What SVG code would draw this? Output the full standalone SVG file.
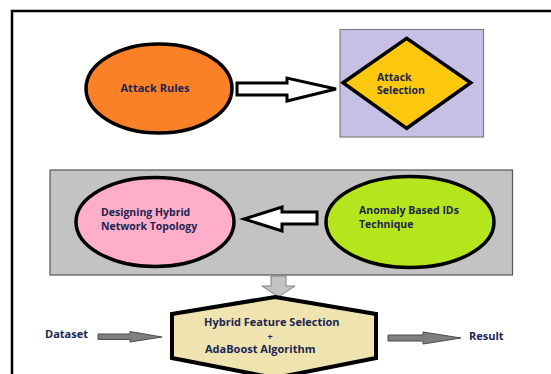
<svg xmlns="http://www.w3.org/2000/svg" width="551" height="374" viewBox="0 0 551 374">
<style>
.t{font-family:"Open Sans","Liberation Sans",sans-serif;font-weight:bold;fill:#1c2452;}
.e{stroke:#000;stroke-width:3.5;}
.hollow{fill:#fff;stroke:#000;stroke-width:3;stroke-linejoin:miter;}
.grey{fill:#7f7f7f;stroke:#4d4d4d;stroke-width:1;}
</style>
<rect width="551" height="374" fill="#fff"/>
<path d="M12,380 L12,11 L556,11" fill="none" stroke="#000" stroke-width="2.5"/>
<g id="ids-group">
<rect x="50" y="170" width="462.5" height="105" fill="#c3c3c3" stroke="#555" stroke-width="1.2"/>
</g>
<g id="connectors">
<polygon class="hollow" points="237,83 287,83 287,78 336,89 287,101 287,95 237,95"/>
<polygon class="hollow" points="244,219 282,207 282,212 317,212 317,224 282,224 282,231"/>
<polygon points="271,276 286,276 286,286 295,286 278.5,297 262,286 271,286" fill="#c3c3c3" stroke="#7f7f7f" stroke-width="1"/>
<polygon class="grey" points="98,334 130,334 130,331.5 162,337 130,342 130,339.5 98,339.5"/>
<polygon class="grey" points="388,335 423,335 423,332 461,338 423,344 423,341 388,341"/>
</g>
<g id="attack-rules">
<ellipse class="e" cx="159" cy="88.5" rx="73" ry="44.5" fill="#fa8128"/>
<text class="t" x="155" y="92" font-size="11" text-anchor="middle">Attack Rules</text>
</g>
<g id="attack-selection">
<rect x="340" y="29.5" width="143.5" height="107.5" fill="#c6c0e6" stroke="#7f7f7f" stroke-width="1.2"/>
<polygon class="e" points="343,82.7 406.7,38.3 470.7,82.7 406.7,128.3" fill="#fdc80e"/>
<text class="t" x="377" y="80.5" font-size="10.5">Attack</text>
<text class="t" x="377" y="94" font-size="10.5">Selection</text>
</g>
<g id="designing-hybrid">
<ellipse class="e" cx="155" cy="222" rx="79" ry="44.5" fill="#ffaec9"/>
<text class="t" x="101" y="216" font-size="10.5">Designing Hybrid</text>
<text class="t" x="101" y="229.5" font-size="10.5">Network Topology</text>
</g>
<g id="anomaly-ids">
<ellipse class="e" cx="410" cy="222" rx="84" ry="45.5" fill="#b5e61d"/>
<text class="t" x="359" y="214" font-size="10.5">Anomaly Based IDs</text>
<text class="t" x="359" y="227.5" font-size="10.5">Technique</text>
</g>
<g id="hybrid-feature">
<polygon points="275,297 376,314 376,358 275,378 172,358 172,314" fill="#efe4b0" stroke="#000" stroke-width="4"/>
<text class="t" x="204" y="326" font-size="11">Hybrid Feature Selection</text>
<text class="t" x="270" y="339.5" font-size="9" text-anchor="middle">+</text>
<text class="t" x="205" y="353" font-size="11">AdaBoost Algorithm</text>
</g>
<g id="dataset">
<text class="t" x="45" y="338" font-size="11">Dataset</text>
</g>
<g id="result">
<text class="t" x="469" y="340" font-size="11">Result</text>
</g>
</svg>
